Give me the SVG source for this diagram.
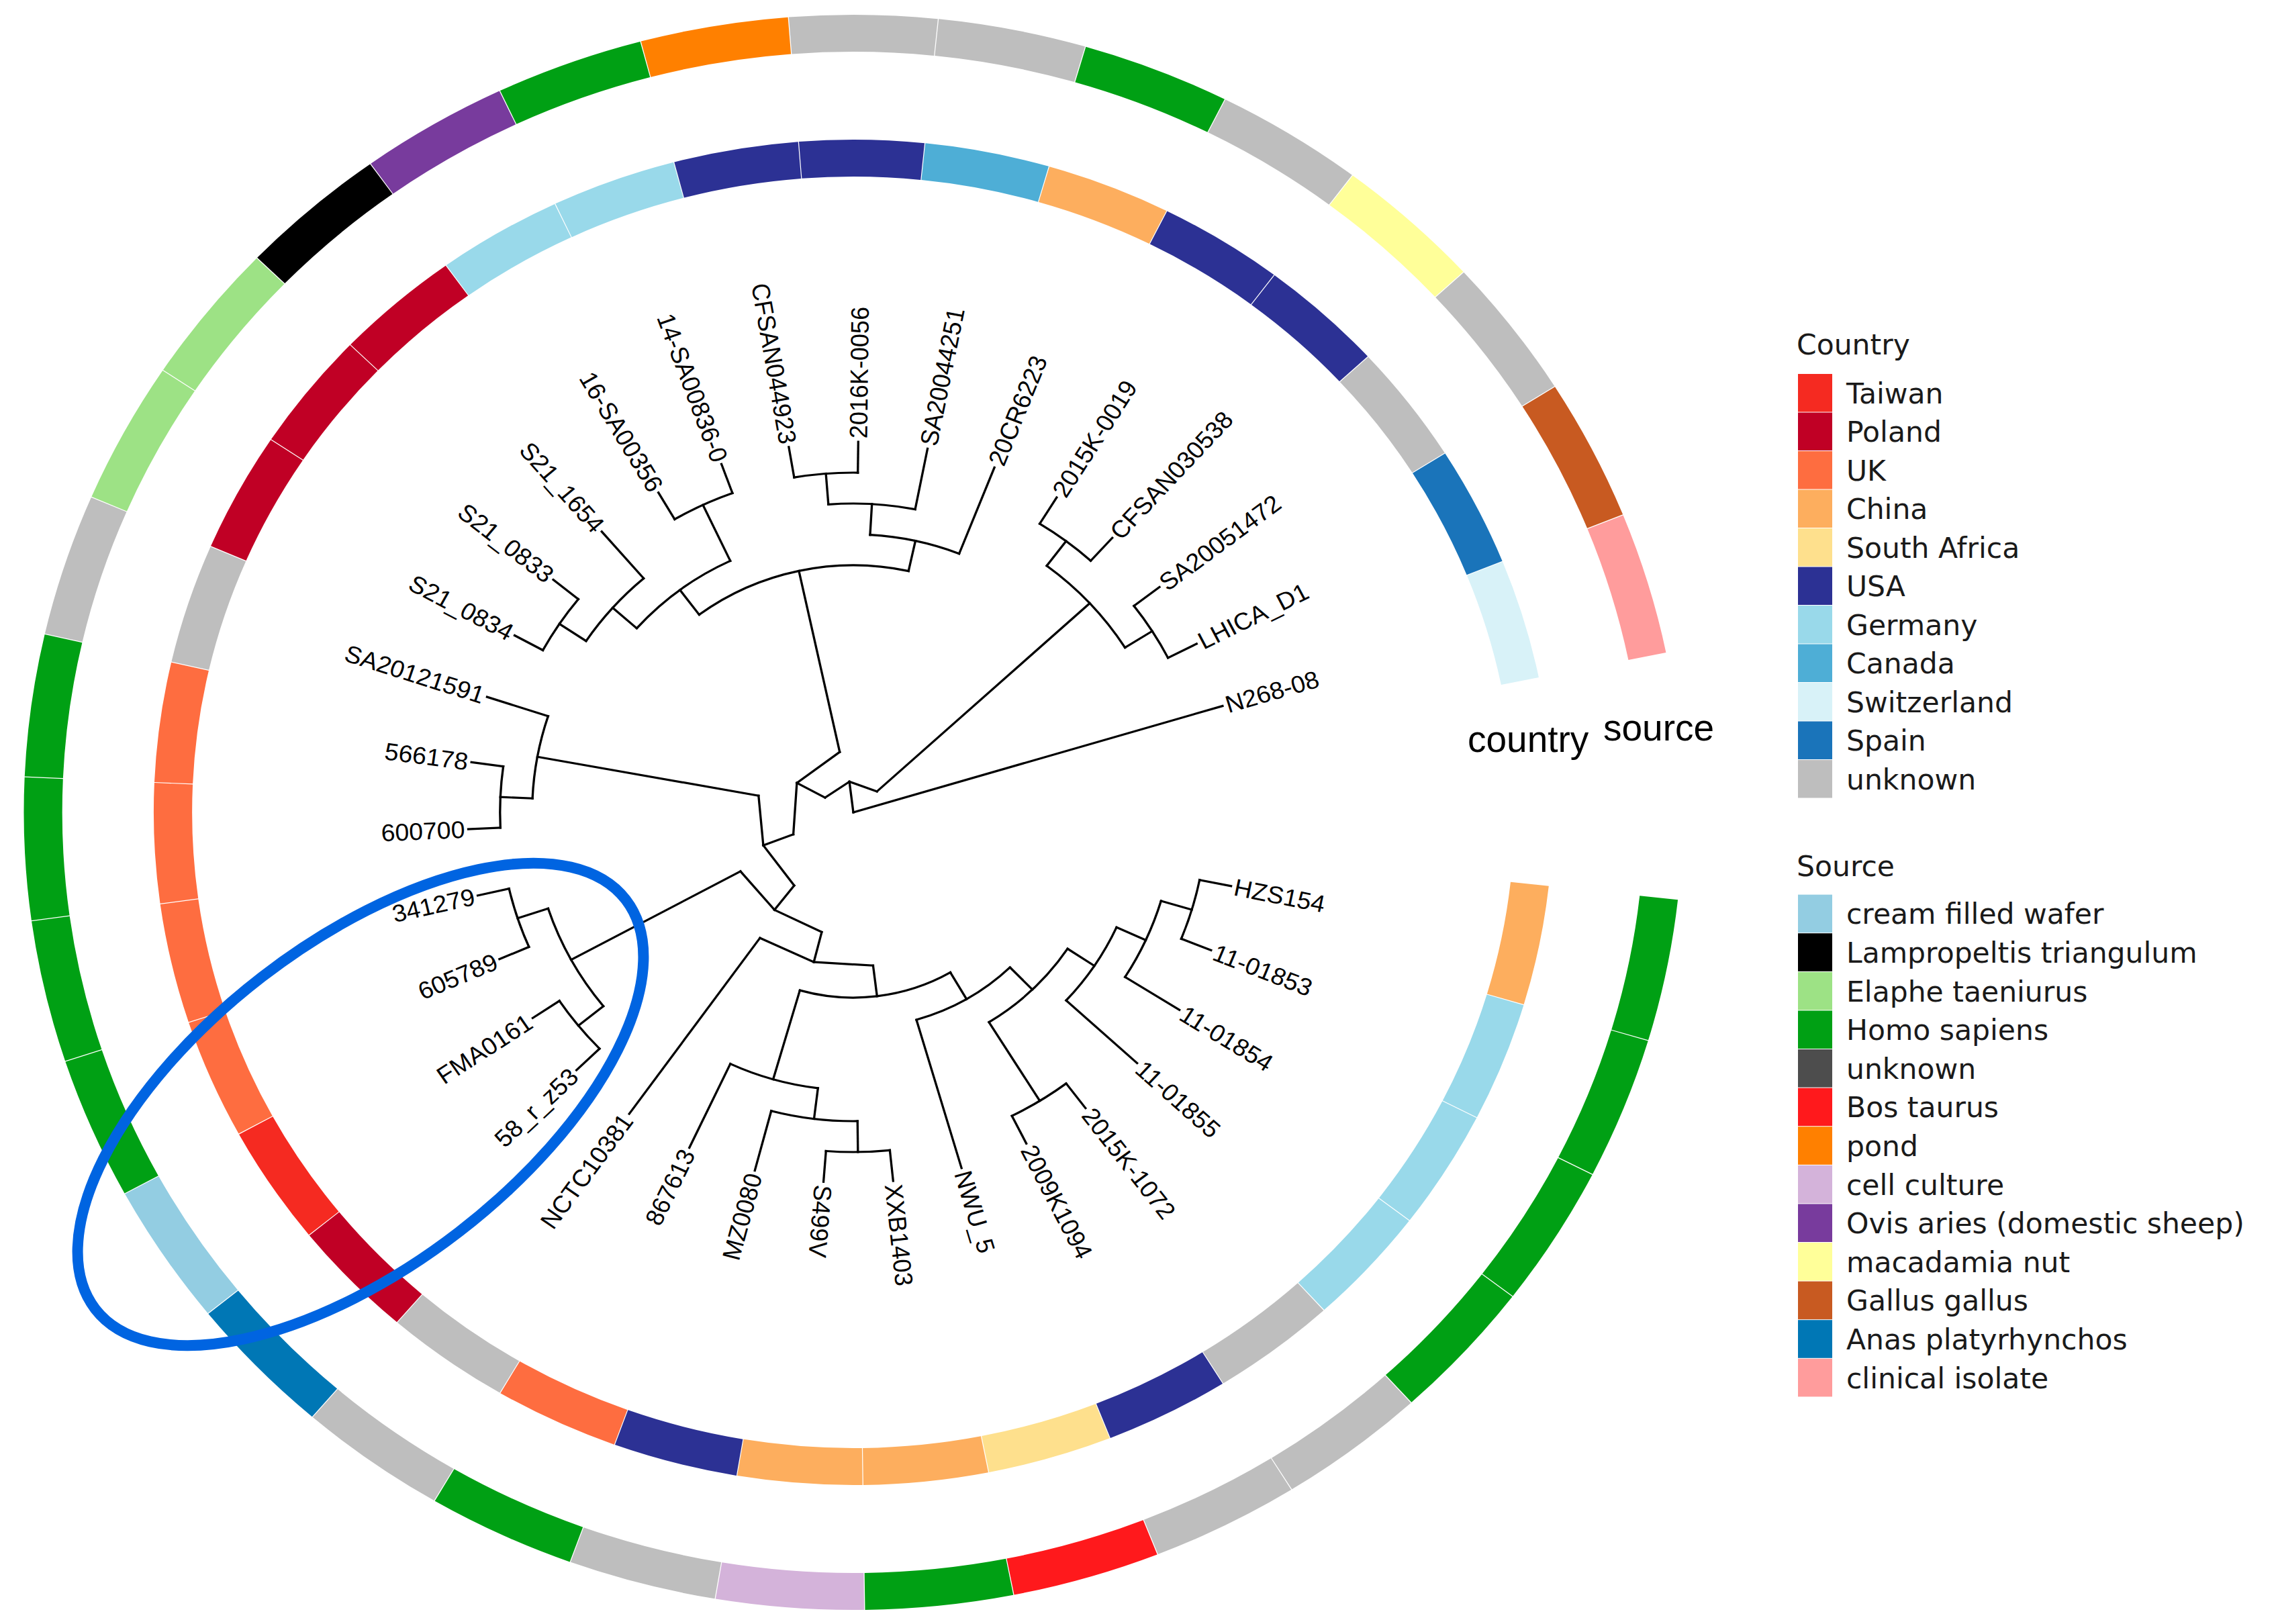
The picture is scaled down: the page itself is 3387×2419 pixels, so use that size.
<svg xmlns="http://www.w3.org/2000/svg" width="3387" height="2419" viewBox="0 0 3387 2419">
<style>
.c{fill:none;stroke-width:55;stroke-dasharray:175.2 9000}
.s{fill:none;stroke-width:55;stroke-dasharray:208.8 9000}
.b line,.b circle{stroke:#000;stroke-width:3.2;fill:none;stroke-linecap:square}
.lab{font-family:"Liberation Sans",Arial,sans-serif;font-size:36px;fill:#000}
.lg{font-family:"DejaVu Sans",sans-serif;font-size:42.5px;fill:#1a1a1a}
.ax{font-family:"Liberation Sans",Arial,sans-serif;font-size:55px;fill:#000}
</style>
<rect width="3387" height="2419" fill="#fff"/>
<g transform="translate(1271,1210) scale(1.04,1)">
<g id="ring-country">
<circle class="c" r="974.5" stroke="#d8f2f8" transform="rotate(-21.87)"/>
<circle class="c" r="974.5" stroke="#1a74ba" transform="rotate(-32.24)"/>
<circle class="c" r="974.5" stroke="#bebebe" transform="rotate(-42.61)"/>
<circle class="c" r="974.5" stroke="#2c3194" transform="rotate(-52.98)"/>
<circle class="c" r="974.5" stroke="#2c3194" transform="rotate(-63.35)"/>
<circle class="c" r="974.5" stroke="#fdae5e" transform="rotate(-73.72)"/>
<circle class="c" r="974.5" stroke="#4eaed6" transform="rotate(-84.09)"/>
<circle class="c" r="974.5" stroke="#2c3194" transform="rotate(-94.46)"/>
<circle class="c" r="974.5" stroke="#2c3194" transform="rotate(-104.83)"/>
<circle class="c" r="974.5" stroke="#99d9ea" transform="rotate(-115.20)"/>
<circle class="c" r="974.5" stroke="#99d9ea" transform="rotate(-125.57)"/>
<circle class="c" r="974.5" stroke="#c00025" transform="rotate(-135.94)"/>
<circle class="c" r="974.5" stroke="#c00025" transform="rotate(-146.31)"/>
<circle class="c" r="974.5" stroke="#c00025" transform="rotate(-156.68)"/>
<circle class="c" r="974.5" stroke="#bebebe" transform="rotate(-167.05)"/>
<circle class="c" r="974.5" stroke="#fe6d40" transform="rotate(-177.42)"/>
<circle class="c" r="974.5" stroke="#fe6d40" transform="rotate(-187.79)"/>
<circle class="c" r="974.5" stroke="#fe6d40" transform="rotate(-198.16)"/>
<circle class="c" r="974.5" stroke="#fe6d40" transform="rotate(-208.53)"/>
<circle class="c" r="974.5" stroke="#f52a21" transform="rotate(-218.90)"/>
<circle class="c" r="974.5" stroke="#c00025" transform="rotate(-229.27)"/>
<circle class="c" r="974.5" stroke="#bebebe" transform="rotate(-239.64)"/>
<circle class="c" r="974.5" stroke="#fe6d40" transform="rotate(-250.01)"/>
<circle class="c" r="974.5" stroke="#2c3194" transform="rotate(-260.38)"/>
<circle class="c" r="974.5" stroke="#fdae5e" transform="rotate(-270.75)"/>
<circle class="c" r="974.5" stroke="#fdae5e" transform="rotate(-281.12)"/>
<circle class="c" r="974.5" stroke="#fee08d" transform="rotate(-291.49)"/>
<circle class="c" r="974.5" stroke="#2c3194" transform="rotate(-301.86)"/>
<circle class="c" r="974.5" stroke="#bebebe" transform="rotate(-312.23)"/>
<circle class="c" r="974.5" stroke="#99d9ea" transform="rotate(-322.60)"/>
<circle class="c" r="974.5" stroke="#99d9ea" transform="rotate(-332.97)"/>
<circle class="c" r="974.5" stroke="#99d9ea" transform="rotate(-343.34)"/>
<circle class="c" r="974.5" stroke="#fdae5e" transform="rotate(-353.71)"/>
</g>
<g id="ring-source">
<circle class="s" r="1160.5" stroke="#ff9c9c" transform="rotate(-21.87)"/>
<circle class="s" r="1160.5" stroke="#c85a21" transform="rotate(-32.24)"/>
<circle class="s" r="1160.5" stroke="#bebebe" transform="rotate(-42.61)"/>
<circle class="s" r="1160.5" stroke="#ffff99" transform="rotate(-52.98)"/>
<circle class="s" r="1160.5" stroke="#bebebe" transform="rotate(-63.35)"/>
<circle class="s" r="1160.5" stroke="#00a014" transform="rotate(-73.72)"/>
<circle class="s" r="1160.5" stroke="#bebebe" transform="rotate(-84.09)"/>
<circle class="s" r="1160.5" stroke="#bebebe" transform="rotate(-94.46)"/>
<circle class="s" r="1160.5" stroke="#ff8000" transform="rotate(-104.83)"/>
<circle class="s" r="1160.5" stroke="#00a014" transform="rotate(-115.20)"/>
<circle class="s" r="1160.5" stroke="#783b9d" transform="rotate(-125.57)"/>
<circle class="s" r="1160.5" stroke="#000000" transform="rotate(-135.94)"/>
<circle class="s" r="1160.5" stroke="#9de285" transform="rotate(-146.31)"/>
<circle class="s" r="1160.5" stroke="#9de285" transform="rotate(-156.68)"/>
<circle class="s" r="1160.5" stroke="#bebebe" transform="rotate(-167.05)"/>
<circle class="s" r="1160.5" stroke="#00a014" transform="rotate(-177.42)"/>
<circle class="s" r="1160.5" stroke="#00a014" transform="rotate(-187.79)"/>
<circle class="s" r="1160.5" stroke="#00a014" transform="rotate(-198.16)"/>
<circle class="s" r="1160.5" stroke="#00a014" transform="rotate(-208.53)"/>
<circle class="s" r="1160.5" stroke="#93cde2" transform="rotate(-218.90)"/>
<circle class="s" r="1160.5" stroke="#0077b5" transform="rotate(-229.27)"/>
<circle class="s" r="1160.5" stroke="#bebebe" transform="rotate(-239.64)"/>
<circle class="s" r="1160.5" stroke="#00a014" transform="rotate(-250.01)"/>
<circle class="s" r="1160.5" stroke="#bebebe" transform="rotate(-260.38)"/>
<circle class="s" r="1160.5" stroke="#d4b3da" transform="rotate(-270.75)"/>
<circle class="s" r="1160.5" stroke="#00a014" transform="rotate(-281.12)"/>
<circle class="s" r="1160.5" stroke="#ff191c" transform="rotate(-291.49)"/>
<circle class="s" r="1160.5" stroke="#bebebe" transform="rotate(-301.86)"/>
<circle class="s" r="1160.5" stroke="#bebebe" transform="rotate(-312.23)"/>
<circle class="s" r="1160.5" stroke="#00a014" transform="rotate(-322.60)"/>
<circle class="s" r="1160.5" stroke="#00a014" transform="rotate(-332.97)"/>
<circle class="s" r="1160.5" stroke="#00a014" transform="rotate(-343.34)"/>
<circle class="s" r="1160.5" stroke="#00a014" transform="rotate(-353.71)"/>
</g>
<g id="connectors" class="b">
<!-- tip branches -->
<line x1="0" x2="552" transform="rotate(-16.68)"/>
<line x1="506" x2="552" transform="rotate(-27.05)"/>
<line x1="506" x2="552" transform="rotate(-37.42)"/>
<line x1="506" x2="552" transform="rotate(-47.79)"/>
<line x1="506" x2="552" transform="rotate(-58.16)"/>
<line x1="414" x2="552" transform="rotate(-68.53)"/>
<line x1="460" x2="552" transform="rotate(-78.90)"/>
<line x1="506" x2="552" transform="rotate(-89.27)"/>
<line x1="506" x2="552" transform="rotate(-99.64)"/>
<line x1="506" x2="552" transform="rotate(-110.01)"/>
<line x1="506" x2="552" transform="rotate(-120.38)"/>
<line x1="460" x2="552" transform="rotate(-130.75)"/>
<line x1="506" x2="552" transform="rotate(-141.12)"/>
<line x1="506" x2="552" transform="rotate(-151.49)"/>
<line x1="460" x2="552" transform="rotate(-161.86)"/>
<line x1="506" x2="552" transform="rotate(-172.23)"/>
<line x1="506" x2="552" transform="rotate(-182.60)"/>
<line x1="506" x2="552" transform="rotate(-192.97)"/>
<line x1="506" x2="552" transform="rotate(-203.34)"/>
<line x1="506" x2="552" transform="rotate(-213.71)"/>
<line x1="506" x2="552" transform="rotate(-224.08)"/>
<line x1="230" x2="552" transform="rotate(-234.45)"/>
<line x1="414" x2="552" transform="rotate(-244.82)"/>
<line x1="460" x2="552" transform="rotate(-255.19)"/>
<line x1="506" x2="552" transform="rotate(-265.56)"/>
<line x1="506" x2="552" transform="rotate(-275.93)"/>
<line x1="322" x2="552" transform="rotate(-286.30)"/>
<line x1="506" x2="552" transform="rotate(-296.67)"/>
<line x1="506" x2="552" transform="rotate(-307.04)"/>
<line x1="414" x2="552" transform="rotate(-317.41)"/>
<line x1="460" x2="552" transform="rotate(-327.78)"/>
<line x1="506" x2="552" transform="rotate(-338.15)"/>
<line x1="506" x2="552" transform="rotate(-348.52)"/>
<!-- internal radial branches -->
<line x1="0" x2="46" transform="rotate(-97.08)"/>
<line x1="46" x2="460" transform="rotate(-42.605)"/>
<line x1="460" x2="506" transform="rotate(-32.235)"/>
<line x1="460" x2="506" transform="rotate(-52.975)"/>
<line x1="46" x2="92" transform="rotate(-151.56)"/>
<line x1="92" x2="368" transform="rotate(-102.23)"/>
<line x1="368" x2="414" transform="rotate(-77.60)"/>
<line x1="414" x2="460" transform="rotate(-86.68)"/>
<line x1="460" x2="506" transform="rotate(-94.455)"/>
<line x1="368" x2="414" transform="rotate(-126.86)"/>
<line x1="414" x2="506" transform="rotate(-115.195)"/>
<line x1="414" x2="460" transform="rotate(-138.53)"/>
<line x1="460" x2="506" transform="rotate(-146.305)"/>
<line x1="92" x2="138" transform="rotate(-200.89)"/>
<line x1="138" x2="460" transform="rotate(-169.64)"/>
<line x1="460" x2="506" transform="rotate(-177.415)"/>
<line x1="138" x2="184" transform="rotate(-232.14)"/>
<line x1="184" x2="460" transform="rotate(-208.525)"/>
<line x1="460" x2="506" transform="rotate(-198.155)"/>
<line x1="460" x2="506" transform="rotate(-218.895)"/>
<line x1="184" x2="230" transform="rotate(-255.76)"/>
<line x1="230" x2="276" transform="rotate(-277.065)"/>
<line x1="276" x2="414" transform="rotate(-253.895)"/>
<line x1="414" x2="460" transform="rotate(-262.97)"/>
<line x1="460" x2="506" transform="rotate(-270.745)"/>
<line x1="276" x2="322" transform="rotate(-300.235)"/>
<line x1="322" x2="368" transform="rotate(-314.17)"/>
<line x1="368" x2="506" transform="rotate(-301.855)"/>
<line x1="368" x2="414" transform="rotate(-326.485)"/>
<line x1="414" x2="460" transform="rotate(-335.56)"/>
<line x1="460" x2="506" transform="rotate(-343.335)"/>
<!-- short inner connectors (chords) -->
<line x1="40.90" y1="-21.05" x2="40.90" y2="21.05" transform="rotate(-69.84)"/>
<line x1="40.90" y1="-21.05" x2="40.90" y2="21.05" transform="rotate(-124.32)"/>
<line x1="83.60" y1="-38.39" x2="83.60" y2="38.39" transform="rotate(-126.895)"/>
<line x1="83.60" y1="-38.39" x2="83.60" y2="38.39" transform="rotate(-176.225)"/>
<line x1="132.90" y1="-37.17" x2="132.90" y2="37.17" transform="rotate(-185.265)"/>
<line x1="132.90" y1="-37.17" x2="132.90" y2="37.17" transform="rotate(-216.515)"/>
<line x1="180.10" y1="-37.66" x2="180.10" y2="37.66" transform="rotate(-220.33)"/>
<line x1="180.10" y1="-37.66" x2="180.10" y2="37.66" transform="rotate(-243.95)"/>
<line x1="226.03" y1="-42.52" x2="226.03" y2="42.52" transform="rotate(-245.105)"/>
<line x1="226.03" y1="-42.52" x2="226.03" y2="42.52" transform="rotate(-266.41)"/>
<!-- arcs -->
<circle r="460" style="stroke-dasharray:166.51 9999" transform="rotate(-52.975)"/>
<circle r="506" style="stroke-dasharray:91.58 9999" transform="rotate(-37.42)"/>
<circle r="506" style="stroke-dasharray:91.58 9999" transform="rotate(-58.16)"/>
<circle r="368" style="stroke-dasharray:316.39 9999" transform="rotate(-126.86)"/>
<circle r="414" style="stroke-dasharray:131.15 9999" transform="rotate(-86.68)"/>
<circle r="460" style="stroke-dasharray:124.88 9999" transform="rotate(-94.455)"/>
<circle r="506" style="stroke-dasharray:91.58 9999" transform="rotate(-99.64)"/>
<circle r="414" style="stroke-dasharray:168.61 9999" transform="rotate(-138.53)"/>
<circle r="506" style="stroke-dasharray:91.58 9999" transform="rotate(-120.38)"/>
<circle r="460" style="stroke-dasharray:124.88 9999" transform="rotate(-146.305)"/>
<circle r="506" style="stroke-dasharray:91.58 9999" transform="rotate(-151.49)"/>
<circle r="460" style="stroke-dasharray:124.88 9999" transform="rotate(-177.415)"/>
<circle r="506" style="stroke-dasharray:91.58 9999" transform="rotate(-182.60)"/>
<circle r="460" style="stroke-dasharray:166.51 9999" transform="rotate(-218.895)"/>
<circle r="506" style="stroke-dasharray:91.58 9999" transform="rotate(-203.34)"/>
<circle r="506" style="stroke-dasharray:91.58 9999" transform="rotate(-224.08)"/>
<circle r="276" style="stroke-dasharray:223.22 9999" transform="rotate(-300.235)"/>
<circle r="414" style="stroke-dasharray:131.15 9999" transform="rotate(-262.97)"/>
<circle r="460" style="stroke-dasharray:124.88 9999" transform="rotate(-270.745)"/>
<circle r="506" style="stroke-dasharray:91.58 9999" transform="rotate(-275.93)"/>
<circle r="322" style="stroke-dasharray:156.63 9999" transform="rotate(-314.17)"/>
<circle r="368" style="stroke-dasharray:158.19 9999" transform="rotate(-326.485)"/>
<circle r="506" style="stroke-dasharray:91.58 9999" transform="rotate(-307.04)"/>
<circle r="414" style="stroke-dasharray:131.15 9999" transform="rotate(-335.56)"/>
<circle r="460" style="stroke-dasharray:124.88 9999" transform="rotate(-343.335)"/>
<circle r="506" style="stroke-dasharray:91.58 9999" transform="rotate(-348.52)"/>
</g>
<g id="tips" class="lab">
<g id="tip-N268-08"><text x="557" dy="0.35em" transform="rotate(-16.68)">N268-08</text></g>
<g id="tip-LHICA_D1"><text x="557" dy="0.35em" transform="rotate(-27.05)">LHICA_D1</text></g>
<g id="tip-SA20051472"><text x="557" dy="0.35em" transform="rotate(-37.42)">SA20051472</text></g>
<g id="tip-CFSAN030538"><text x="557" dy="0.35em" transform="rotate(-47.79)">CFSAN030538</text></g>
<g id="tip-2015K-0019"><text x="557" dy="0.35em" transform="rotate(-58.16)">2015K-0019</text></g>
<g id="tip-20CR6223"><text x="557" dy="0.35em" transform="rotate(-68.53)">20CR6223</text></g>
<g id="tip-SA20044251"><text x="557" dy="0.35em" transform="rotate(-78.90)">SA20044251</text></g>
<g id="tip-2016K-0056"><text x="557" dy="0.35em" transform="rotate(-89.27)">2016K-0056</text></g>
<g id="tip-CFSAN044923"><text x="-557" dy="0.35em" text-anchor="end" transform="rotate(80.36)">CFSAN044923</text></g>
<g id="tip-14-SA00836-0"><text x="-557" dy="0.35em" text-anchor="end" transform="rotate(69.99)">14-SA00836-0</text></g>
<g id="tip-16-SA00356"><text x="-557" dy="0.35em" text-anchor="end" transform="rotate(59.62)">16-SA00356</text></g>
<g id="tip-S21_1654"><text x="-557" dy="0.35em" text-anchor="end" transform="rotate(49.25)">S21_1654</text></g>
<g id="tip-S21_0833"><text x="-557" dy="0.35em" text-anchor="end" transform="rotate(38.88)">S21_0833</text></g>
<g id="tip-S21_0834"><text x="-557" dy="0.35em" text-anchor="end" transform="rotate(28.51)">S21_0834</text></g>
<g id="tip-SA20121591"><text x="-557" dy="0.35em" text-anchor="end" transform="rotate(18.14)">SA20121591</text></g>
<g id="tip-566178"><text x="-557" dy="0.35em" text-anchor="end" transform="rotate(7.77)">566178</text></g>
<g id="tip-600700"><text x="-557" dy="0.35em" text-anchor="end" transform="rotate(-2.60)">600700</text></g>
<g id="tip-341279"><text x="-557" dy="0.35em" text-anchor="end" transform="rotate(-12.97)">341279</text></g>
<g id="tip-605789"><text x="-557" dy="0.35em" text-anchor="end" transform="rotate(-23.34)">605789</text></g>
<g id="tip-FMA0161"><text x="-557" dy="0.35em" text-anchor="end" transform="rotate(-33.71)">FMA0161</text></g>
<g id="tip-58_r_z53"><text x="-557" dy="0.35em" text-anchor="end" transform="rotate(-44.08)">58_r_z53</text></g>
<g id="tip-NCTC10381"><text x="-557" dy="0.35em" text-anchor="end" transform="rotate(-54.45)">NCTC10381</text></g>
<g id="tip-867613"><text x="-557" dy="0.35em" text-anchor="end" transform="rotate(-64.82)">867613</text></g>
<g id="tip-MZ0080"><text x="-557" dy="0.35em" text-anchor="end" transform="rotate(-75.19)">MZ0080</text></g>
<g id="tip-S499V"><text x="557" dy="0.35em" transform="rotate(94.44)">S499V</text></g>
<g id="tip-XXB1403"><text x="557" dy="0.35em" transform="rotate(84.07)">XXB1403</text></g>
<g id="tip-NWU_5"><text x="557" dy="0.35em" transform="rotate(73.70)">NWU_5</text></g>
<g id="tip-2009K1094"><text x="557" dy="0.35em" transform="rotate(63.33)">2009K1094</text></g>
<g id="tip-2015K-1072"><text x="557" dy="0.35em" transform="rotate(52.96)">2015K-1072</text></g>
<g id="tip-11-01855"><text x="557" dy="0.35em" transform="rotate(42.59)">11-01855</text></g>
<g id="tip-11-01854"><text x="557" dy="0.35em" transform="rotate(32.22)">11-01854</text></g>
<g id="tip-11-01853"><text x="557" dy="0.35em" transform="rotate(21.85)">11-01853</text></g>
<g id="tip-HZS154"><text x="557" dy="0.35em" transform="rotate(11.48)">HZS154</text></g>
</g>
</g>
<g id="ring-titles" class="ax">
<text x="2186" y="1120">country</text>
<text x="2388" y="1103">source</text>
</g>
<g id="legend-country" class="lg">
<text x="2676" y="528">Country</text>
<g id="lc-taiwan"><rect x="2678" y="557" width="51" height="56.5" fill="#f52a21"/><text x="2750" y="600.8">Taiwan</text></g>
<g id="lc-poland"><rect x="2678" y="614.5" width="51" height="56.5" fill="#c00025"/><text x="2750" y="658.3">Poland</text></g>
<g id="lc-uk"><rect x="2678" y="672" width="51" height="56.5" fill="#fe6d40"/><text x="2750" y="715.8">UK</text></g>
<g id="lc-china"><rect x="2678" y="729.5" width="51" height="56.5" fill="#fdae5e"/><text x="2750" y="773.3">China</text></g>
<g id="lc-southafrica"><rect x="2678" y="787" width="51" height="56.5" fill="#fee08d"/><text x="2750" y="830.8">South Africa</text></g>
<g id="lc-usa"><rect x="2678" y="844.5" width="51" height="56.5" fill="#2c3194"/><text x="2750" y="888.3">USA</text></g>
<g id="lc-germany"><rect x="2678" y="902" width="51" height="56.5" fill="#99d9ea"/><text x="2750" y="945.8">Germany</text></g>
<g id="lc-canada"><rect x="2678" y="959.5" width="51" height="56.5" fill="#4eaed6"/><text x="2750" y="1003.3">Canada</text></g>
<g id="lc-switzerland"><rect x="2678" y="1017" width="51" height="56.5" fill="#d8f2f8"/><text x="2750" y="1060.8">Switzerland</text></g>
<g id="lc-spain"><rect x="2678" y="1074.5" width="51" height="56.5" fill="#1a74ba"/><text x="2750" y="1118.3">Spain</text></g>
<g id="lc-unknown"><rect x="2678" y="1132" width="51" height="56.5" fill="#bebebe"/><text x="2750" y="1175.8">unknown</text></g>
</g>
<g id="legend-source" class="lg">
<text x="2676" y="1304.5">Source</text>
<g id="ls-cream"><rect x="2678" y="1332.6" width="51" height="56.6" fill="#93cde2"/><text x="2750" y="1376.4">cream filled wafer</text></g>
<g id="ls-lampro"><rect x="2678" y="1390.2" width="51" height="56.6" fill="#000000"/><text x="2750" y="1434">Lampropeltis triangulum</text></g>
<g id="ls-elaphe"><rect x="2678" y="1447.8" width="51" height="56.6" fill="#9de285"/><text x="2750" y="1491.6">Elaphe taeniurus</text></g>
<g id="ls-homo"><rect x="2678" y="1505.4" width="51" height="56.6" fill="#00a014"/><text x="2750" y="1549.2">Homo sapiens</text></g>
<g id="ls-unknown"><rect x="2678" y="1563" width="51" height="56.6" fill="#4d4d4d"/><text x="2750" y="1606.8">unknown</text></g>
<g id="ls-bos"><rect x="2678" y="1620.6" width="51" height="56.6" fill="#ff191c"/><text x="2750" y="1664.4">Bos taurus</text></g>
<g id="ls-pond"><rect x="2678" y="1678.2" width="51" height="56.6" fill="#ff8000"/><text x="2750" y="1722">pond</text></g>
<g id="ls-cell"><rect x="2678" y="1735.8" width="51" height="56.6" fill="#d4b3da"/><text x="2750" y="1779.6">cell culture</text></g>
<g id="ls-ovis"><rect x="2678" y="1793.4" width="51" height="56.6" fill="#783b9d"/><text x="2750" y="1837.2">Ovis aries (domestic sheep)</text></g>
<g id="ls-macadamia"><rect x="2678" y="1851" width="51" height="56.6" fill="#ffff99"/><text x="2750" y="1894.8">macadamia nut</text></g>
<g id="ls-gallus"><rect x="2678" y="1908.6" width="51" height="56.6" fill="#c85a21"/><text x="2750" y="1952.4">Gallus gallus</text></g>
<g id="ls-anas"><rect x="2678" y="1966.2" width="51" height="56.6" fill="#0077b5"/><text x="2750" y="2010">Anas platyrhynchos</text></g>
<g id="ls-clinical"><rect x="2678" y="2023.8" width="51" height="56.6" fill="#ff9c9c"/><text x="2750" y="2067.6">clinical isolate</text></g>
</g>
<g id="highlight">
<ellipse cx="537" cy="1645" rx="499" ry="240" transform="rotate(-37.65 537 1645)" fill="none" stroke="#0064e1" stroke-width="16"/>
</g>
</svg>
